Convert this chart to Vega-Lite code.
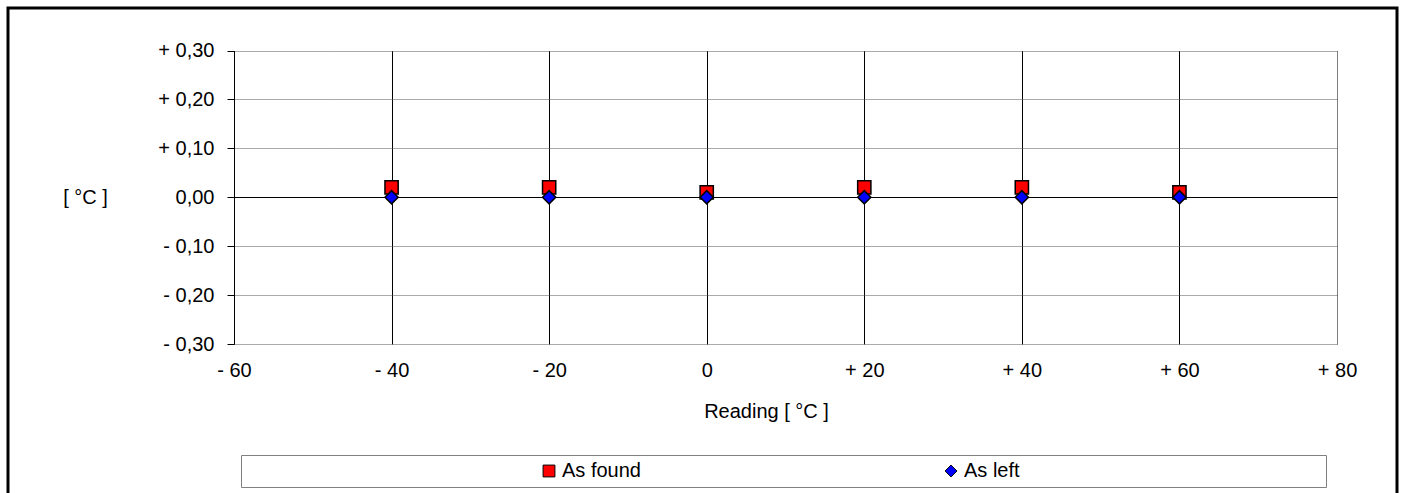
{
  "$schema": "https://vega.github.io/schema/vega-lite/v6.json",
  "width": 1389,
  "height": 490,
  "autosize": "none",
  "padding": {"left": 8, "top": 8, "right": 8, "bottom": 0},
  "background": "white",
  "view": {"stroke": "black", "strokeWidth": 3, "fill": "white"},
  "data": {
    "values": [
      {"reading": -40, "error": 0.02, "series": "As found"},
      {"reading": -20, "error": 0.02, "series": "As found"},
      {"reading": 0, "error": 0.01, "series": "As found"},
      {"reading": 20, "error": 0.02, "series": "As found"},
      {"reading": 40, "error": 0.02, "series": "As found"},
      {"reading": 60, "error": 0.01, "series": "As found"},
      {"reading": -40, "error": 0.0, "series": "As left"},
      {"reading": -20, "error": 0.0, "series": "As left"},
      {"reading": 0, "error": 0.0, "series": "As left"},
      {"reading": 20, "error": 0.0, "series": "As left"},
      {"reading": 40, "error": 0.0, "series": "As left"},
      {"reading": 60, "error": 0.0, "series": "As left"}
    ]
  },
  "mark": {"type": "point", "filled": true, "stroke": "black", "strokeWidth": 1.5, "size": 175, "opacity": 1},
  "encoding": {
    "x": {
      "field": "reading",
      "type": "quantitative",
      "scale": {"domain": [-60, 80], "range": [226, 1329], "nice": false, "zero": false},
      "axis": {
        "orient": "top",
        "offset": -336,
        "values": [-60, -40, -20, 0, 20, 40, 60, 80],
        "labelExpr": "datum.value > 0 ? '+ ' + datum.value : (datum.value < 0 ? '- ' + abs(datum.value) : '0')",
        "labelFontSize": 20,
        "labelColor": "black",
        "labelBaseline": "alphabetic",
        "labelPadding": -32,
        "labelFlush": false,
        "labelOverlap": false,
        "ticks": false,
        "tickSize": 0,
        "domain": false,
        "grid": true,
        "gridColor": {"condition": {"test": "datum.value == 80", "value": "#808080"}, "value": "#000000"},
        "gridWidth": 1,
        "gridOpacity": 1,
        "title": "Reading [ °C ]",
        "titleFontSize": 20,
        "titleFontWeight": "normal",
        "titleColor": "black",
        "titleX": 758,
        "titleY": 73,
        "titleAlign": "center",
        "titleBaseline": "alphabetic"
      }
    },
    "y": {
      "field": "error",
      "type": "quantitative",
      "scale": {"domain": [-0.3, 0.3], "range": [336, 42.5], "nice": false, "zero": false},
      "axis": {
        "orient": "left",
        "offset": -226,
        "values": [-0.3, -0.2, -0.1, 0, 0.1, 0.2, 0.3],
        "labelExpr": "datum.value > 0.001 ? '+ ' + replace(format(datum.value, '.2f'), '.', ',') : (datum.value < -0.001 ? '- ' + replace(format(-datum.value, '.2f'), '.', ',') : '0,00')",
        "labelFontSize": 20,
        "labelColor": "black",
        "labelPadding": 13,
        "labelFlush": false,
        "labelOverlap": false,
        "ticks": true,
        "tickSize": 7,
        "tickColor": "black",
        "domain": true,
        "domainColor": "black",
        "domainWidth": 1,
        "grid": true,
        "gridColor": {"condition": {"test": "abs(datum.value) < 0.001", "value": "#000000"}, "value": "#555555"},
        "gridDash": {"condition": {"test": "abs(datum.value) < 0.001", "value": []}, "value": [1, 1]},
        "gridOpacity": 1,
        "title": "[ °C ]",
        "titleAngle": 0,
        "titleX": -149,
        "titleY": 189,
        "titleAlign": "center",
        "titleBaseline": "middle",
        "titleFontSize": 20,
        "titleFontWeight": "normal",
        "titleColor": "black"
      }
    },
    "color": {
      "field": "series",
      "type": "nominal",
      "scale": {"domain": ["As found", "As left"], "range": ["#FF0000", "#0000FF"]},
      "title": "\u00a0",
      "legend": {
        "labelExpr": "datum.value == 'As left' ? datum.label + pad('', 54, '\u00a0') + '\u200b' : datum.label",
        "encode": {"symbols": {"update": {"stroke": {"value": "black"}, "strokeWidth": {"value": 1}}}}
      }
    },
    "shape": {
      "field": "series",
      "type": "nominal",
      "scale": {"domain": ["As found", "As left"], "range": ["square", "diamond"]},
      "title": "\u00a0",
      "legend": {
        "labelExpr": "datum.value == 'As left' ? datum.label + pad('', 54, '\u00a0') + '\u200b' : datum.label",
        "encode": {"symbols": {"update": {"stroke": {"value": "black"}, "strokeWidth": {"value": 1}}}}
      }
    }
  },
  "config": {
    "font": "Liberation Sans",
    "legend": {
      "orient": "none",
      "legendX": 233,
      "legendY": 447,
      "direction": "horizontal",
      "padding": 6,
      "strokeColor": "#808080",
      "strokeWidth": 1,
      "fillColor": "white",
      "titleOrient": "left",
      "titleFontSize": 1,
      "titlePadding": 292,
      "labelFontSize": 20,
      "labelColor": "black",
      "labelOffset": 3,
      "labelLimit": 600,
      "columnPadding": 300,
      "symbolSize": 140,
      "symbolStrokeColor": "black",
      "symbolStrokeWidth": 1,
      "symbolOpacity": 1
    }
  }
}
